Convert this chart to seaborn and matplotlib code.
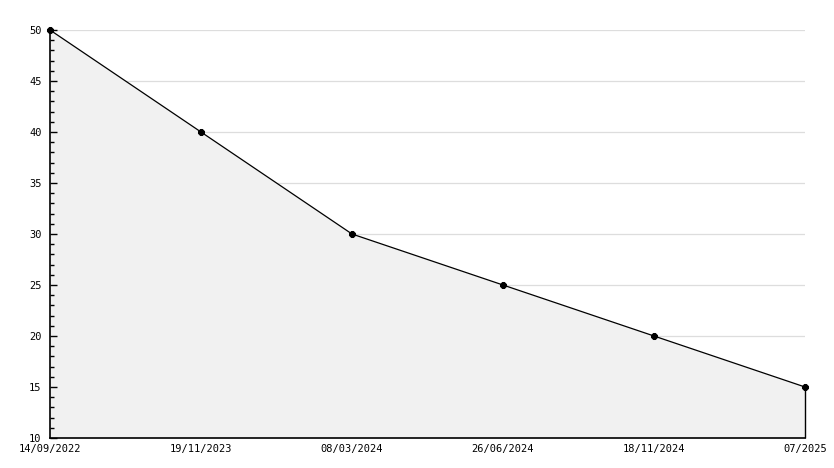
import matplotlib
matplotlib.use("Agg")
import matplotlib.pyplot as plt
import seaborn as sns
import numpy as np
import pandas as pd
from matplotlib.ticker import MultipleLocator

dates = ["14/09/2022", "19/11/2023", "08/03/2024", "26/06/2024", "18/11/2024", "07/2025"]
values = [50, 40, 30, 25, 20, 15]
yticks = [10, 15, 20, 25, 30, 35, 40, 45, 50]

sns.set_style("white")
plt.rcParams['font.family'] = ['DejaVu Sans Mono']

fig = plt.figure(figsize=(8.34, 4.68), dpi=100)
ax = fig.add_axes([50/834, 1-438/468, (805-50)/834, (438-30)/468])

pos = np.arange(len(dates))
for yv in yticks[1:]:
    ax.axhline(yv, color="#dddddd", linewidth=0.9, zorder=0.2)
ax.fill_between(pos, values, 10, color="#f1f1f1", zorder=0.4, linewidth=0)
sns.lineplot(x=pos, y=values, ax=ax, color="black", linewidth=0.9,
             marker="8", markersize=4.5, markeredgecolor="black", zorder=3,
             clip_on=False)
ax.vlines(pos[-1], 10, values[-1], color="black", linewidth=1.0, zorder=3, clip_on=False)

ax.set_xlim(0, len(dates)-1)
ax.set_ylim(10, 50)
ax.set_xticks(pos)
ax.set_xticklabels(dates)
ax.set_yticks(yticks)
ax.yaxis.set_minor_locator(MultipleLocator(1))
ax.grid(False)
ax.set_axisbelow(False)
for s in ["top", "right"]:
    ax.spines[s].set_visible(False)
for s in ["left", "bottom"]:
    ax.spines[s].set_color("black")
    ax.spines[s].set_linewidth(1.2)
    ax.spines[s].set_zorder(4)
ax.tick_params(axis="y", which="major", direction="in", length=5, width=1, left=True, labelsize=7.5, pad=6, colors="black")
ax.tick_params(axis="y", which="minor", direction="in", length=3, width=1, left=True, colors="black")
ax.tick_params(axis="x", length=0, labelsize=7.5, pad=4, colors="black")
ax.set_xlabel("")
ax.set_ylabel("")

fig.savefig("out.png", dpi=100)
